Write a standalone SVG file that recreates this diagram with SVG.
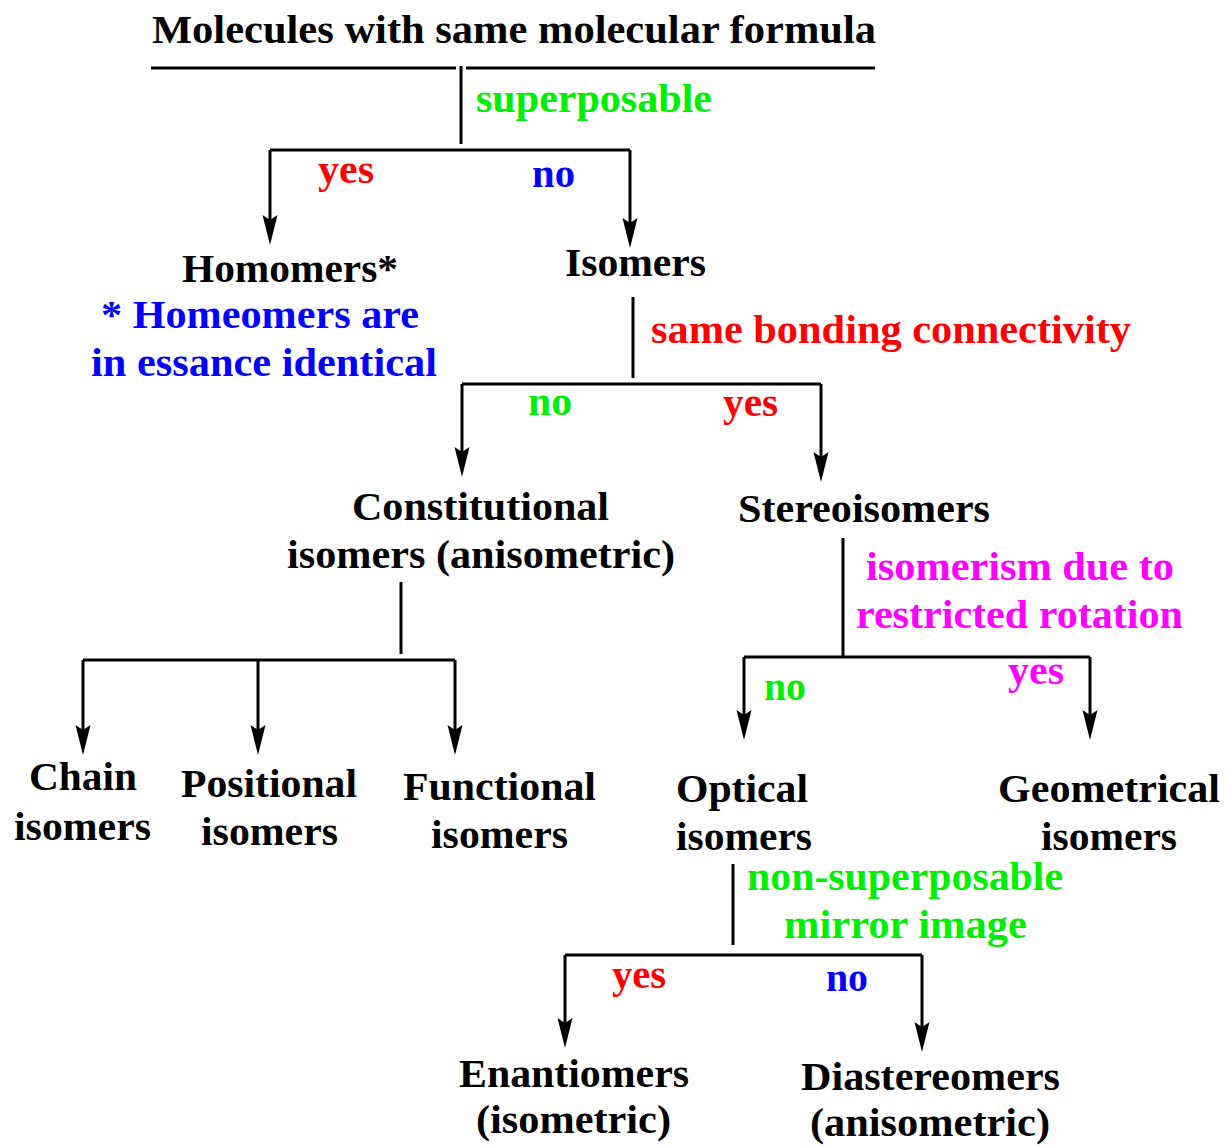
<svg xmlns="http://www.w3.org/2000/svg" width="1225" height="1146" viewBox="0 0 1225 1146">
<style>
text{font-family:"Liberation Serif","Times New Roman",serif;font-weight:bold;font-size:40px}
.k{fill:#000}.g{fill:#00ee00}.r{fill:#ff0000}.b{fill:#0000ff}.m{fill:#ff00ff}
.ln{stroke:#000;stroke-width:3;fill:none}
.ar{stroke:#000;stroke-width:3;fill:none;marker-end:url(#ah)}
</style>
<defs>
<marker id="ah" markerUnits="userSpaceOnUse" viewBox="-24 -9 36 18" markerWidth="36" markerHeight="18" refX="0" refY="0" orient="auto">
<path d="M10,0 L-20,-7.5 L-15,0 L-20,7.5 z" fill="#000"/>
</marker>
</defs>
<rect width="1225" height="1146" fill="#fff"/>
<g id="connectors">
<path class="ln" d="M151,68 H456 M466,68 H875"/>
<path class="ln" d="M461,66 V144"/>
<path class="ln" d="M270,150 H630"/>
<path class="ar" d="M270,150 V235"/>
<path class="ar" d="M630,150 V238"/>
<path class="ln" d="M633,297 V378"/>
<path class="ln" d="M462,384 H821"/>
<path class="ar" d="M462,384 V467"/>
<path class="ar" d="M821,384 V472"/>
<path class="ln" d="M401,582 V654"/>
<path class="ln" d="M83,660 H455"/>
<path class="ar" d="M83,660 V745"/>
<path class="ar" d="M258,660 V745"/>
<path class="ar" d="M455,660 V745"/>
<path class="ln" d="M843,538 V658"/>
<path class="ln" d="M744,657 H1090"/>
<path class="ar" d="M744,657 V730"/>
<path class="ar" d="M1090,657 V730"/>
<path class="ln" d="M733,864 V945"/>
<path class="ln" d="M565,955 H922"/>
<path class="ar" d="M565,955 V1038"/>
<path class="ar" d="M922,955 V1042"/>
</g>
<g id="labels">
<text class="g" x="476" y="112" textLength="236" lengthAdjust="spacingAndGlyphs">superposable</text>
<text class="r" x="318" y="183" textLength="56" lengthAdjust="spacingAndGlyphs">yes</text>
<text class="b" x="532" y="187" textLength="43" lengthAdjust="spacingAndGlyphs">no</text>
<text class="r" x="651" y="343" textLength="480" lengthAdjust="spacingAndGlyphs">same bonding connectivity</text>
<text class="g" x="528" y="415" textLength="44" lengthAdjust="spacingAndGlyphs">no</text>
<text class="r" x="723" y="416" textLength="55" lengthAdjust="spacingAndGlyphs">yes</text>
<text class="m" x="866" y="580" textLength="308" lengthAdjust="spacingAndGlyphs">isomerism due to</text>
<text class="m" x="856" y="628" textLength="327" lengthAdjust="spacingAndGlyphs">restricted rotation</text>
<text class="g" x="764" y="700" textLength="42" lengthAdjust="spacingAndGlyphs">no</text>
<text class="m" x="1008" y="684" textLength="56" lengthAdjust="spacingAndGlyphs">yes</text>
<text class="g" x="747" y="890" textLength="316" lengthAdjust="spacingAndGlyphs">non-superposable</text>
<text class="g" x="784" y="938" textLength="243" lengthAdjust="spacingAndGlyphs">mirror image</text>
<text class="r" x="612" y="988" textLength="54" lengthAdjust="spacingAndGlyphs">yes</text>
<text class="b" x="826" y="991" textLength="42" lengthAdjust="spacingAndGlyphs">no</text>
</g>
<g id="node-title"><text class="k" x="152" y="43" textLength="724" lengthAdjust="spacingAndGlyphs">Molecules with same molecular formula</text></g>
<g id="node-homomers"><text class="k" x="182" y="282" textLength="216" lengthAdjust="spacingAndGlyphs">Homomers*</text></g>
<g id="node-note">
<text class="b" x="101" y="328" textLength="318" lengthAdjust="spacingAndGlyphs">* Homeomers are</text>
<text class="b" x="91" y="376" textLength="346" lengthAdjust="spacingAndGlyphs">in essance identical</text>
</g>
<g id="node-isomers"><text class="k" x="565" y="276" textLength="141" lengthAdjust="spacingAndGlyphs">Isomers</text></g>
<g id="node-constitutional">
<text class="k" x="352" y="520" textLength="257" lengthAdjust="spacingAndGlyphs">Constitutional</text>
<text class="k" x="287" y="568" textLength="388" lengthAdjust="spacingAndGlyphs">isomers (anisometric)</text>
</g>
<g id="node-stereoisomers"><text class="k" x="738" y="522" textLength="252" lengthAdjust="spacingAndGlyphs">Stereoisomers</text></g>
<g id="node-chain">
<text class="k" x="29" y="790" textLength="108" lengthAdjust="spacingAndGlyphs">Chain</text>
<text class="k" x="14" y="840" textLength="137" lengthAdjust="spacingAndGlyphs">isomers</text>
</g>
<g id="node-positional">
<text class="k" x="181" y="797" textLength="176" lengthAdjust="spacingAndGlyphs">Positional</text>
<text class="k" x="201" y="845" textLength="137" lengthAdjust="spacingAndGlyphs">isomers</text>
</g>
<g id="node-functional">
<text class="k" x="403" y="800" textLength="193" lengthAdjust="spacingAndGlyphs">Functional</text>
<text class="k" x="431" y="848" textLength="137" lengthAdjust="spacingAndGlyphs">isomers</text>
</g>
<g id="node-optical">
<text class="k" x="676" y="802" textLength="132" lengthAdjust="spacingAndGlyphs">Optical</text>
<text class="k" x="676" y="850" textLength="136" lengthAdjust="spacingAndGlyphs">isomers</text>
</g>
<g id="node-geometrical">
<text class="k" x="998" y="802" textLength="222" lengthAdjust="spacingAndGlyphs">Geometrical</text>
<text class="k" x="1041" y="850" textLength="136" lengthAdjust="spacingAndGlyphs">isomers</text>
</g>
<g id="node-enantiomers">
<text class="k" x="459" y="1087" textLength="230" lengthAdjust="spacingAndGlyphs">Enantiomers</text>
<text class="k" x="476" y="1133" textLength="195" lengthAdjust="spacingAndGlyphs">(isometric)</text>
</g>
<g id="node-diastereomers">
<text class="k" x="801" y="1090" textLength="259" lengthAdjust="spacingAndGlyphs">Diastereomers</text>
<text class="k" x="810" y="1136" textLength="240" lengthAdjust="spacingAndGlyphs">(anisometric)</text>
</g>
</svg>
